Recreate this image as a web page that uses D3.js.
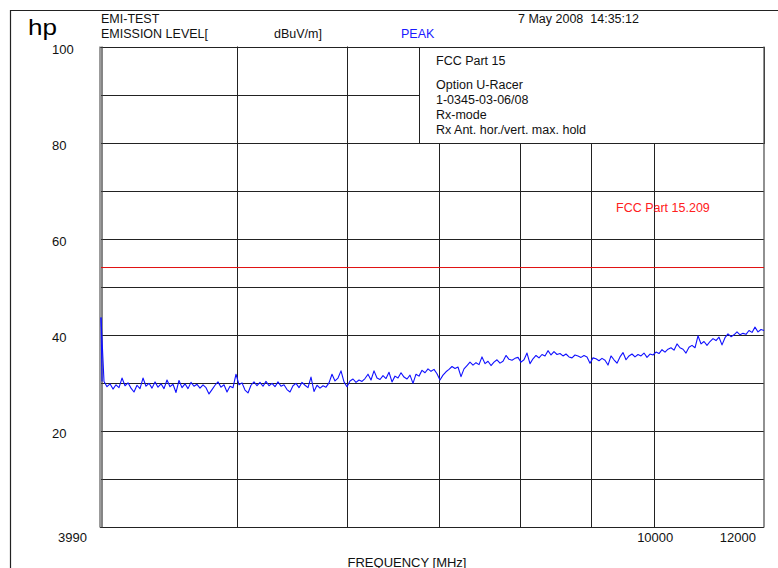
<!DOCTYPE html>
<html>
<head>
<meta charset="utf-8">
<script src="https://cdn.jsdelivr.net/npm/d3@7"></script>
<style>
  html, body { margin: 0; padding: 0; background: #fff; }
  svg { display: block; }
  text { font-family: "Liberation Sans", Arial, Helvetica, sans-serif; white-space: pre; }
</style>
</head>
<body>
<svg id="chart" width="778" height="568"></svg>
<script>
// ---- data ----
const startFreq = 3990;           // MHz
const stopFreq = 12000;           // MHz
const gridFreqs = [5000, 6000, 7000, 8000, 9000, 10000];
const gridLevels = [10, 20, 30, 40, 50, 60, 70, 80, 90];
const yTickLabels = [100, 80, 60, 40, 20];
const xTickValues = [3990, 10000, 12000];
const xTickLabels = ["3990", "10000", "12000"];
const limitLevel = 54;            // FCC Part 15.209 (dBuV/m)
const infoLines = ["Option U-Racer", "1-0345-03-06/08", "Rx-mode", "Rx Ant. hor./vert. max. hold"];
// Peak trace levels (dBuV/m), sweep points equally spaced over the (log) frequency span
const levels = [
  43.6, 30.3, 29.2, 29.8, 28.7, 29.6, 29.0, 31.0, 29.4, 30.0,
  28.9, 28.1, 29.5, 28.8, 31.0, 29.3, 29.9, 28.9, 30.2, 29.1,
  29.8, 28.8, 30.6, 29.2, 29.7, 28.0, 30.5, 29.0, 29.8, 28.8,
  30.1, 29.3, 29.7, 28.9, 29.6, 29.0, 27.7, 28.6, 29.5, 30.2,
  29.1, 29.6, 28.1, 29.3, 29.0, 31.8, 29.6, 30.0, 28.5, 27.9,
  29.5, 30.2, 29.4, 30.1, 29.3, 30.3, 29.4, 29.9, 29.2, 30.2,
  29.3, 29.6, 28.6, 28.1, 29.4, 29.9, 29.0, 30.1, 29.5, 29.0,
  31.2, 28.2, 29.5, 28.9, 29.4, 29.1, 30.0, 31.8, 30.4, 31.0,
  32.5, 30.2, 29.2, 30.4, 30.8, 30.1, 30.6, 30.3, 30.9, 31.8,
  30.6, 32.5, 31.0, 30.7, 31.5, 30.9, 32.2, 30.2, 31.4, 31.0,
  32.1, 31.2, 30.8, 31.6, 29.9, 31.8, 31.4, 32.6, 32.1, 32.9,
  32.4, 32.8, 31.9, 30.6, 31.6, 32.3, 32.8, 33.4, 33.0, 33.3,
  31.3, 32.9, 33.6, 34.3, 33.7, 34.2, 33.8, 35.4, 34.0, 34.5,
  33.6, 34.3, 34.8, 34.1, 34.5, 35.7, 34.9, 34.7, 35.1, 35.3,
  34.3, 34.8, 36.2, 34.0, 35.0, 35.7, 35.2, 35.9, 35.6, 36.7,
  35.8, 36.5, 35.9, 36.1, 35.6, 36.0, 35.4, 35.2, 35.8, 35.6,
  35.3, 35.7, 35.4, 34.1, 35.2, 35.0, 34.6, 35.1, 34.7, 33.7,
  35.6, 34.8, 34.1, 35.4, 36.3, 34.8, 35.6, 36.0, 35.4, 35.9,
  35.6, 36.2, 35.3, 36.0, 35.8, 36.4, 36.1, 36.9, 36.4, 37.0,
  37.3, 36.8, 38.1, 37.3, 37.0, 36.2, 37.4, 37.8, 37.3, 39.8,
  38.1, 38.6, 37.8, 38.6, 39.2, 38.8, 39.5, 37.9, 39.4, 40.2,
  39.6, 40.0, 40.6, 40.0, 40.3, 40.1, 40.9, 40.5, 41.6, 40.6,
  41.1, 40.9
];

// ---- drawing ----
const svg = d3.select("#chart");
const plotLeft = 101, plotRight = 764, plotTop = 46.5, plotBottom = 527;
const boxLeft = 419;

const x = d3.scaleLog().domain([startFreq, stopFreq]).range([plotLeft, plotRight]);
const y = d3.scaleLinear().domain([0, 100]).range([plotBottom, plotTop]);

svg.append("rect").attr("width", 778).attr("height", 568).attr("fill", "#fff");

// page frame
svg.append("path").attr("d", "M10.5,568 V10.5 H778").attr("fill", "none").attr("stroke", "#222").attr("stroke-width", 1.2);

// horizontal grid lines
const gridColor = "#222";
svg.append("g").selectAll("line").data(gridLevels).join("line")
  .attr("x1", plotLeft)
  .attr("x2", d => y(d) < y(80) ? boxLeft : plotRight)
  .attr("y1", d => Math.round(y(d)) + 0.5)
  .attr("y2", d => Math.round(y(d)) + 0.5)
  .attr("stroke", gridColor).attr("stroke-width", 1);

// vertical grid lines
svg.append("g").selectAll("line").data(gridFreqs).join("line")
  .attr("x1", d => Math.round(x(d)) + 0.5)
  .attr("x2", d => Math.round(x(d)) + 0.5)
  .attr("y1", d => x(d) > boxLeft ? Math.round(y(80)) + 0.5 : plotTop)
  .attr("y2", plotBottom)
  .attr("stroke", gridColor).attr("stroke-width", 1);

// info box
svg.append("rect")
  .attr("x", boxLeft + 0.5).attr("y", Math.round(plotTop) + 0.5)
  .attr("width", plotRight - boxLeft).attr("height", Math.round(y(80)) - Math.round(plotTop))
  .attr("fill", "#fff").attr("stroke", gridColor);

// plot border
svg.append("line").attr("x1", plotLeft - 1).attr("x2", plotRight).attr("y1", Math.round(plotTop) + 0.5).attr("y2", Math.round(plotTop) + 0.5).attr("stroke", gridColor);
svg.append("line").attr("x1", plotLeft - 1).attr("x2", plotRight).attr("y1", plotBottom + 0.5).attr("y2", plotBottom + 0.5).attr("stroke", gridColor);
svg.append("line").attr("x1", plotLeft - 1).attr("x2", plotLeft - 1).attr("y1", plotTop).attr("y2", plotBottom + 0.5).attr("stroke", "#666").attr("stroke-width", 1.3);
svg.append("line").attr("x1", plotLeft + 1).attr("x2", plotLeft + 1).attr("y1", plotTop).attr("y2", plotBottom + 0.5).attr("stroke", "#444").attr("stroke-width", 1.3);
svg.append("line").attr("x1", plotRight).attr("x2", plotRight).attr("y1", plotTop).attr("y2", plotBottom + 0.5).attr("stroke", "#555").attr("stroke-width", 1.3);

// limit line
svg.append("line")
  .attr("x1", plotLeft).attr("x2", plotRight)
  .attr("y1", y(limitLevel)).attr("y2", y(limitLevel))
  .attr("stroke", "#e01010").attr("stroke-width", 1);

// trace
const n = levels.length;
const traceData = levels.map((v, i) => ({
  f: startFreq * Math.pow(stopFreq / startFreq, i / (n - 1)),
  v
}));
svg.append("path")
  .datum(traceData)
  .attr("fill", "none")
  .attr("stroke", "#1010ff")
  .attr("stroke-width", 1.1)
  .attr("stroke-linejoin", "round")
  .attr("d", d3.line().x(d => x(d.f)).y(d => y(d.v)));
// leading spike edge (vertical drop at start of sweep)
svg.append("line")
  .attr("x1", x(startFreq)).attr("x2", x(startFreq) + 1)
  .attr("y1", y(levels[0])).attr("y2", y(levels[1]))
  .attr("stroke", "#1010ff").attr("stroke-width", 1.1);

// y tick labels
svg.append("g").selectAll("text").data(yTickLabels).join("text")
  .attr("x", 52).attr("y", d => y(d) + 7.5)
  .attr("font-size", 13).attr("fill", "#111")
  .text(d => d);

// x tick labels
const xAnchors = ["end", "middle", "end"];
const xOffsets = [-14, 1, -8];
svg.append("g").selectAll("text").data(xTickValues).join("text")
  .attr("x", (d, i) => x(d) + xOffsets[i])
  .attr("y", 541.5)
  .attr("text-anchor", (d, i) => xAnchors[i])
  .attr("font-size", 13).attr("fill", "#111")
  .text((d, i) => xTickLabels[i]);

svg.append("text").attr("x", 407).attr("y", 566.5).attr("text-anchor", "middle")
  .attr("font-size", 13).attr("fill", "#111").text("FREQUENCY [MHz]");

// header
svg.append("text").attr("x", 28).attr("y", 35).attr("font-size", 22).attr("textLength", 29)
  .attr("lengthAdjust", "spacingAndGlyphs").attr("fill", "#000").text("hp");
svg.append("text").attr("x", 101).attr("y", 22.5).attr("font-size", 12.5).attr("fill", "#111").text("EMI-TEST");
svg.append("text").attr("x", 101).attr("y", 37.5).attr("font-size", 12.5).attr("fill", "#111").text("EMISSION LEVEL[");
svg.append("text").attr("x", 274).attr("y", 37.5).attr("font-size", 12.5).attr("fill", "#111").text("dBuV/m]");
svg.append("text").attr("x", 401).attr("y", 37.5).attr("font-size", 12.5).attr("fill", "#1a1aff").text("PEAK");
svg.append("text").attr("x", 518).attr("y", 22.5).attr("font-size", 12.5).attr("fill", "#111").text("7 May 2008  14:35:12");

// info box text
svg.append("text").attr("x", 436).attr("y", 65).attr("font-size", 12.5).attr("fill", "#111").text("FCC Part 15");
svg.append("g").selectAll("text").data(infoLines).join("text")
  .attr("x", 436).attr("y", (d, i) => 89 + i * 15)
  .attr("font-size", 12.5).attr("fill", "#111").text(d => d);

// limit label
svg.append("text").attr("x", 616).attr("y", 212).attr("font-size", 12.5).attr("fill", "#ff2020").text("FCC Part 15.209");
</script>
</body>
</html>
